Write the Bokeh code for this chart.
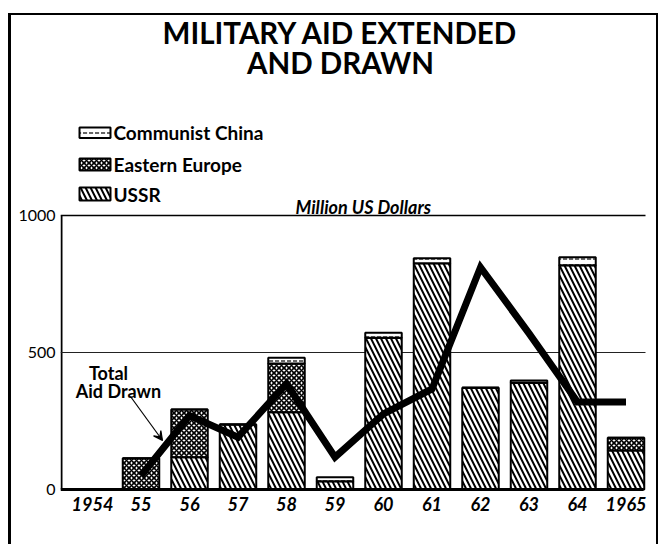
from bokeh.plotting import figure
from bokeh.models import Label, Arrow, VeeHead, FixedTicker, Range1d
from bokeh.embed import file_html
from bokeh.resources import INLINE

# ---------------- data ----------------
years = [1955, 1956, 1957, 1958, 1959, 1960, 1961, 1962, 1963, 1964, 1965]
ussr = [0, 118, 237, 282, 30, 554, 826, 371, 390, 818, 142]
eastern_europe = [114, 174, 0, 178, 0, 0, 0, 0, 0, 0, 47]
communist_china = [0, 0, 0, 21, 15, 18, 18, 0, 8, 30, 0]

line_years = [1955, 1956, 1957, 1958, 1959, 1960, 1961, 1962, 1963, 1964, 1965]
total_drawn = [50, 270, 191, 386, 118, 276, 367, 811, 570, 319, 319]

tick_years = [1954, 1955, 1956, 1957, 1958, 1959, 1960, 1961, 1962, 1963, 1964, 1965]
tick_labels = ["1954", "55", "56", "57", "58", "59", "60", "61", "62", "63", "64", "1965"]
y_ticks = [0, 500, 1000]
y_tick_labels = ["0", "500", "1000"]

title_lines = ["MILITARY AID EXTENDED", "AND DRAWN"]
unit_text = "Million US Dollars"
legend_names = ["Communist China", "Eastern Europe", "USSR"]

# ---------------- layout helpers (page pixel -> data) ----------------
PX0, PXSTEP = 92.0, 48.5      # page x of 1954, px per year
PY0, PYK = 489.0, 0.274       # page y of value 0, px per unit
def X(px):
    return 1954 + (px - PX0) / PXSTEP
def Y(py):
    return (PY0 - py) / PYK

CANVAS_X, CANVAS_Y = 11, 15
W, H = 650, 531
frame_left, frame_right = 60, 661
frame_top, frame_bottom = 15, 491

FONT = "Lato"

p = figure(width=W, height=H, output_backend="svg", toolbar_location=None,
           x_range=Range1d(X(frame_left), X(frame_right)),
           y_range=Range1d(Y(frame_bottom), Y(frame_top)),
           min_border_left=frame_left - CANVAS_X, min_border_right=0,
           min_border_top=0, min_border_bottom=(CANVAS_Y + H) - frame_bottom,
           background_fill_color="white", border_fill_color="white")
p.outline_line_color = None
p.grid.visible = False
p.styles = {"margin-left": "8px", "margin-top": "13px", "border-top": "2px solid black",
            "border-left": "3px solid black", "border-right": "2px solid black"}

# axes
yax = p.yaxis[0]
yax.ticker = FixedTicker(ticks=y_ticks)
yax.major_label_overrides = {t: s for t, s in zip(y_ticks, y_tick_labels)}
yax.axis_line_color = None
yax.major_tick_line_color = None
yax.minor_tick_line_color = None
yax.major_tick_out = 0
yax.major_tick_in = 0
yax.minor_tick_out = 0
yax.major_label_standoff = 5
yax.major_label_text_font = FONT
yax.major_label_text_font_size = "16px"
yax.major_label_text_color = "black"

xax = p.xaxis[0]
xax.ticker = FixedTicker(ticks=tick_years)
xax.major_label_overrides = {t: s for t, s in zip(tick_years, tick_labels)}
xax.axis_line_color = None
xax.major_tick_line_color = None
xax.minor_tick_line_color = None
xax.major_tick_out = 0
xax.major_tick_in = 0
xax.minor_tick_out = 0
xax.major_label_standoff = 5
xax.major_label_text_font = FONT
xax.major_label_text_font_size = "18px"
xax.major_label_text_font_style = "bold italic"
xax.major_label_text_color = "black"

# styles per series
styles = {
    "USSR": dict(fill_color="white", hatch_pattern="\\", hatch_scale=10, hatch_weight=2, hatch_color="black"),
    "Eastern Europe": dict(fill_color="white", hatch_pattern="x", hatch_scale=5, hatch_weight=1.6, hatch_color="black"),
    "Communist China": dict(fill_color="white", hatch_pattern='"', hatch_scale=6, hatch_weight=1.2, hatch_color="black"),
}

# frame lines
p.segment(x0=[X(61)], y0=[0], x1=[X(61)], y1=[1000], line_color="black", line_width=2)
p.segment(x0=[X(60)], y0=[1000], x1=[X(645)], y1=[1000], line_color="black", line_width=1.5)
p.segment(x0=[X(60)], y0=[500], x1=[X(645)], y1=[500], line_color="#222222", line_width=1)

# stacked bars
bw = 36.5 / PXSTEP
b1 = [u for u in ussr]
b2 = [u + e for u, e in zip(ussr, eastern_europe)]
b3 = [u + e + c for u, e, c in zip(ussr, eastern_europe, communist_china)]
p.vbar(x=years, width=bw, bottom=[0] * len(years), top=b1, line_color="black", line_width=2, **styles["USSR"])
p.vbar(x=years, width=bw, bottom=b1, top=b2, line_color="black", line_width=2, **styles["Eastern Europe"])
p.vbar(x=years, width=bw, bottom=b2, top=b3, line_color="black", line_width=2, **styles["Communist China"])

# baseline
p.segment(x0=[X(60)], y0=[0], x1=[X(643)], y1=[0], line_color="black", line_width=3)

# total aid drawn line
p.line(line_years, total_drawn, line_color="black", line_width=7, line_join="miter")

# legend (manual)
swatches = [(127, 137.5), (158, 170), (187, 200)]
text_y = [132, 164, 194]
for name, (t, b), ty in zip(legend_names, swatches, text_y):
    p.quad(left=[X(79)], right=[X(110)], top=[Y(t)], bottom=[Y(b)],
           line_color="black", line_width=2, **styles[name])
    p.add_layout(Label(x=X(113), y=Y(ty), text=name, text_font=FONT, text_font_size="19px",
                       text_font_style="bold", text_baseline="middle", text_align="left",
                       text_color="black"))

# title
for txt, ty in zip(title_lines, [32, 62]):
    p.add_layout(Label(x=X(340), y=Y(ty), text=txt, text_font=FONT, text_font_size="29.5px",
                       text_font_style="bold", text_baseline="middle", text_align="center",
                       text_color="black"))

# units
p.add_layout(Label(x=X(295), y=Y(206), text=unit_text, text_font=FONT, text_font_size="18px",
                   text_font_style="bold italic", text_baseline="middle", text_align="left",
                   text_color="black"))

# annotation
p.add_layout(Label(x=X(108), y=Y(372), text="Total", text_font=FONT, text_font_size="18px",
                   text_font_style="bold", text_baseline="middle", text_align="center", text_color="black"))
p.add_layout(Label(x=X(118), y=Y(390), text="Aid Drawn", text_font=FONT, text_font_size="18px",
                   text_font_style="bold", text_baseline="middle", text_align="center", text_color="black"))
p.add_layout(Arrow(x_start=X(130), y_start=Y(396), x_end=X(162), y_end=Y(440),
                   line_color="black", line_width=1.2,
                   end=VeeHead(size=9, line_color="black", line_width=1.2, fill_color="black")))

open("out.html", "w").write(file_html(p, INLINE))
